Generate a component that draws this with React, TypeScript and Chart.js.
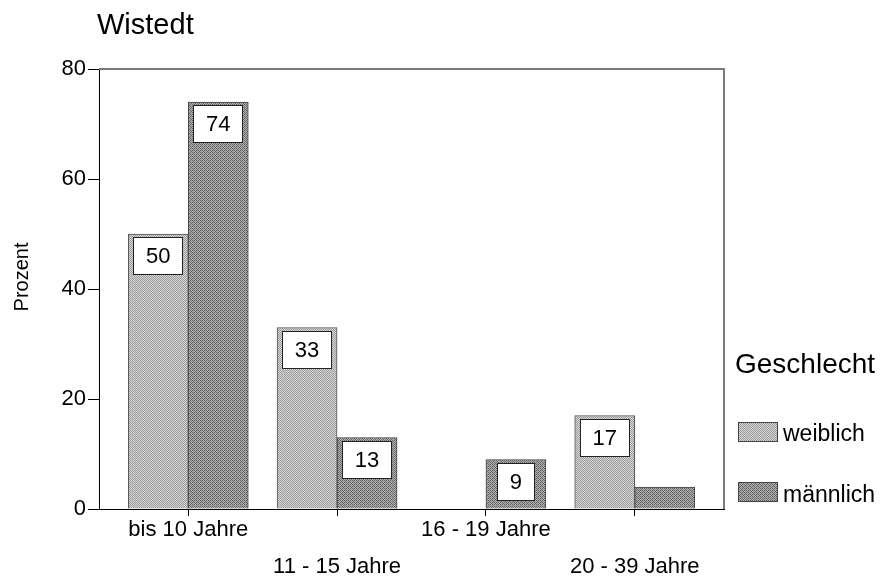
import React, { useEffect, useRef } from 'react';
import { Chart, registerables } from 'chart.js';

Chart.register(...registerables);

const TITLE = 'Wistedt';
const Y_TITLE = 'Prozent';
const LEGEND_TITLE = 'Geschlecht';
const CATEGORIES = ['bis 10 Jahre', '11 - 15 Jahre', '16 - 19 Jahre', '20 - 39 Jahre'];
const SERIES_NAMES = ['weiblich', 'männlich'];
const WEIBLICH = [50, 33, 0, 17];
const MAENNLICH = [74, 13, 9, 4];
const Y_MIN = 0;
const Y_MAX = 80;
const Y_STEP = 20;

const FONT = '"Liberation Sans", Arial, Helvetica, sans-serif';

function makePattern(base: string, dot: string, extra?: string): CanvasPattern | string {
  const c = document.createElement('canvas');
  c.width = 4;
  c.height = 4;
  const ctx = c.getContext('2d');
  if (!ctx) return base;
  ctx.fillStyle = base;
  ctx.fillRect(0, 0, 4, 4);
  ctx.fillStyle = dot;
  for (let y = 0; y < 4; y++) {
    for (let x = 0; x < 4; x++) {
      if ((x + y) % 2 === 0) ctx.fillRect(x, y, 1, 1);
    }
  }
  if (extra) {
    ctx.fillStyle = extra;
    ctx.fillRect(1, 3, 1, 1);
    ctx.fillRect(3, 1, 1, 1);
  }
  return ctx.createPattern(c, 'repeat') || base;
}

export default function App() {
  const ref = useRef<HTMLCanvasElement | null>(null);

  useEffect(() => {
    const canvas = ref.current;
    if (!canvas) return;

    const patW = makePattern('#d6d6d6', '#9c9c9c');
    const patM = makePattern('#b0b0b0', '#626262', '#868686');
    const patterns = [patW, patM];

    const overlay = {
      id: 'overlay',
      afterDatasetsDraw(chart: any) {
        const ctx = chart.ctx as CanvasRenderingContext2D;
        chart.data.datasets.forEach((ds: any, di: number) => {
          const meta = chart.getDatasetMeta(di);
          meta.data.forEach((bar: any, i: number) => {
            const v = ds.data[i].y;
            const h = bar.base - bar.y;
            if (!v || h < 44) return;
            ctx.save();
            ctx.font = `22px ${FONT}`;
            const text = String(v);
            const tw = ctx.measureText(text).width;
            const bw = Math.round(tw + 26);
            const bh = 38;
            const bx = Math.round(bar.x - bw / 2);
            const by = Math.round(bar.y + 3);
            ctx.fillStyle = '#ffffff';
            ctx.fillRect(bx, by, bw, bh);
            ctx.strokeStyle = '#222222';
            ctx.lineWidth = 1;
            ctx.strokeRect(bx + 0.5, by + 0.5, bw - 1, bh - 1);
            ctx.fillStyle = '#000000';
            ctx.textAlign = 'center';
            ctx.textBaseline = 'middle';
            ctx.fillText(text, bar.x, by + bh / 2 + 1);
            ctx.restore();
          });
        });
      },
      afterDraw(chart: any) {
        const ctx = chart.ctx as CanvasRenderingContext2D;
        const { left, right, top, bottom } = chart.chartArea;
        ctx.save();
        ctx.strokeStyle = '#7a7a7a';
        ctx.lineWidth = 2;
        ctx.beginPath();
        ctx.moveTo(left, top);
        ctx.lineTo(right, top);
        ctx.lineTo(right, bottom);
        ctx.stroke();

        ctx.fillStyle = '#000000';
        ctx.font = `29px ${FONT}`;
        ctx.textAlign = 'left';
        ctx.textBaseline = 'alphabetic';
        ctx.fillText(TITLE, 97, 34);

        ctx.save();
        ctx.translate(22, 277);
        ctx.rotate(-Math.PI / 2);
        ctx.font = `20px ${FONT}`;
        ctx.textAlign = 'center';
        ctx.textBaseline = 'middle';
        ctx.fillText(Y_TITLE, 0, 0);
        ctx.restore();

        ctx.font = `28px ${FONT}`;
        ctx.textAlign = 'left';
        ctx.textBaseline = 'alphabetic';
        ctx.fillText(LEGEND_TITLE, 735, 373);

        const boxes = [
          { y: 422, base: 441 },
          { y: 482, base: 502 },
        ];
        SERIES_NAMES.forEach((name, i) => {
          const b = boxes[i];
          ctx.fillStyle = patterns[i] as any;
          ctx.fillRect(738, b.y, 40, 20);
          ctx.strokeStyle = '#444444';
          ctx.lineWidth = 1;
          ctx.strokeRect(738.5, b.y + 0.5, 39, 19);
          ctx.fillStyle = '#000000';
          ctx.font = `23px ${FONT}`;
          ctx.fillText(name, 783, b.base);
        });
        ctx.restore();
      },
    };

    const chart = new Chart(canvas, {
      type: 'bar',
      data: {
        datasets: [
          {
            label: SERIES_NAMES[0],
            data: WEIBLICH.map((v, i) => ({ x: i, y: v })),
            backgroundColor: patW as any,
            borderColor: '#555555',
            borderWidth: 1,
            barThickness: 60,
          },
          {
            label: SERIES_NAMES[1],
            data: MAENNLICH.map((v, i) => ({ x: i, y: v })),
            backgroundColor: patM as any,
            borderColor: '#444444',
            borderWidth: 1,
            barThickness: 60,
          },
        ],
      },
      options: {
        animation: false,
        responsive: false,
        maintainAspectRatio: false,
        layout: { padding: { left: 0, top: 69, right: 156, bottom: 0 } },
        plugins: {
          legend: { display: false },
          title: { display: false },
          tooltip: { enabled: false },
        },
        scales: {
          x: {
            type: 'linear',
            min: -0.6,
            max: 3.6,
            offset: false,
            grid: {
              offset: false,
              drawOnChartArea: false,
              color: '#000000',
              tickLength: 7,
            },
            border: { color: '#000000', width: 1 },
            afterBuildTicks: (scale: any) => {
              scale.ticks = CATEGORIES.map((_, i) => ({ value: i }));
            },
            afterFit: (scale: any) => {
              scale.height = 69;
            },
            ticks: {
              autoSkip: false,
              maxRotation: 0,
              minRotation: 0,
              padding: -4,
              color: '#000000',
              font: { family: FONT, size: 22, lineHeight: 1.65 },
              callback: (value: any) => {
                const i = Math.round(Number(value));
                const label = CATEGORIES[i] ?? '';
                return i % 2 === 0 ? label : ['', label];
              },
            },
          },
          y: {
            min: Y_MIN,
            max: Y_MAX,
            grid: {
              drawOnChartArea: false,
              color: '#000000',
              tickLength: 11,
            },
            border: { color: '#000000', width: 1 },
            afterFit: (scale: any) => {
              scale.width = 99;
            },
            ticks: {
              stepSize: Y_STEP,
              padding: 2,
              color: '#000000',
              font: { family: FONT, size: 22 },
            },
          },
        },
      },
      plugins: [overlay],
    } as any);

    return () => {
      chart.destroy();
    };
  }, []);

  return (
    <div style={{ position: 'fixed', left: 0, top: 0, width: 880, height: 578, background: '#ffffff' }}>
      <canvas ref={ref} width={880} height={578} style={{ display: 'block', width: 880, height: 578 }} />
    </div>
  );
}
